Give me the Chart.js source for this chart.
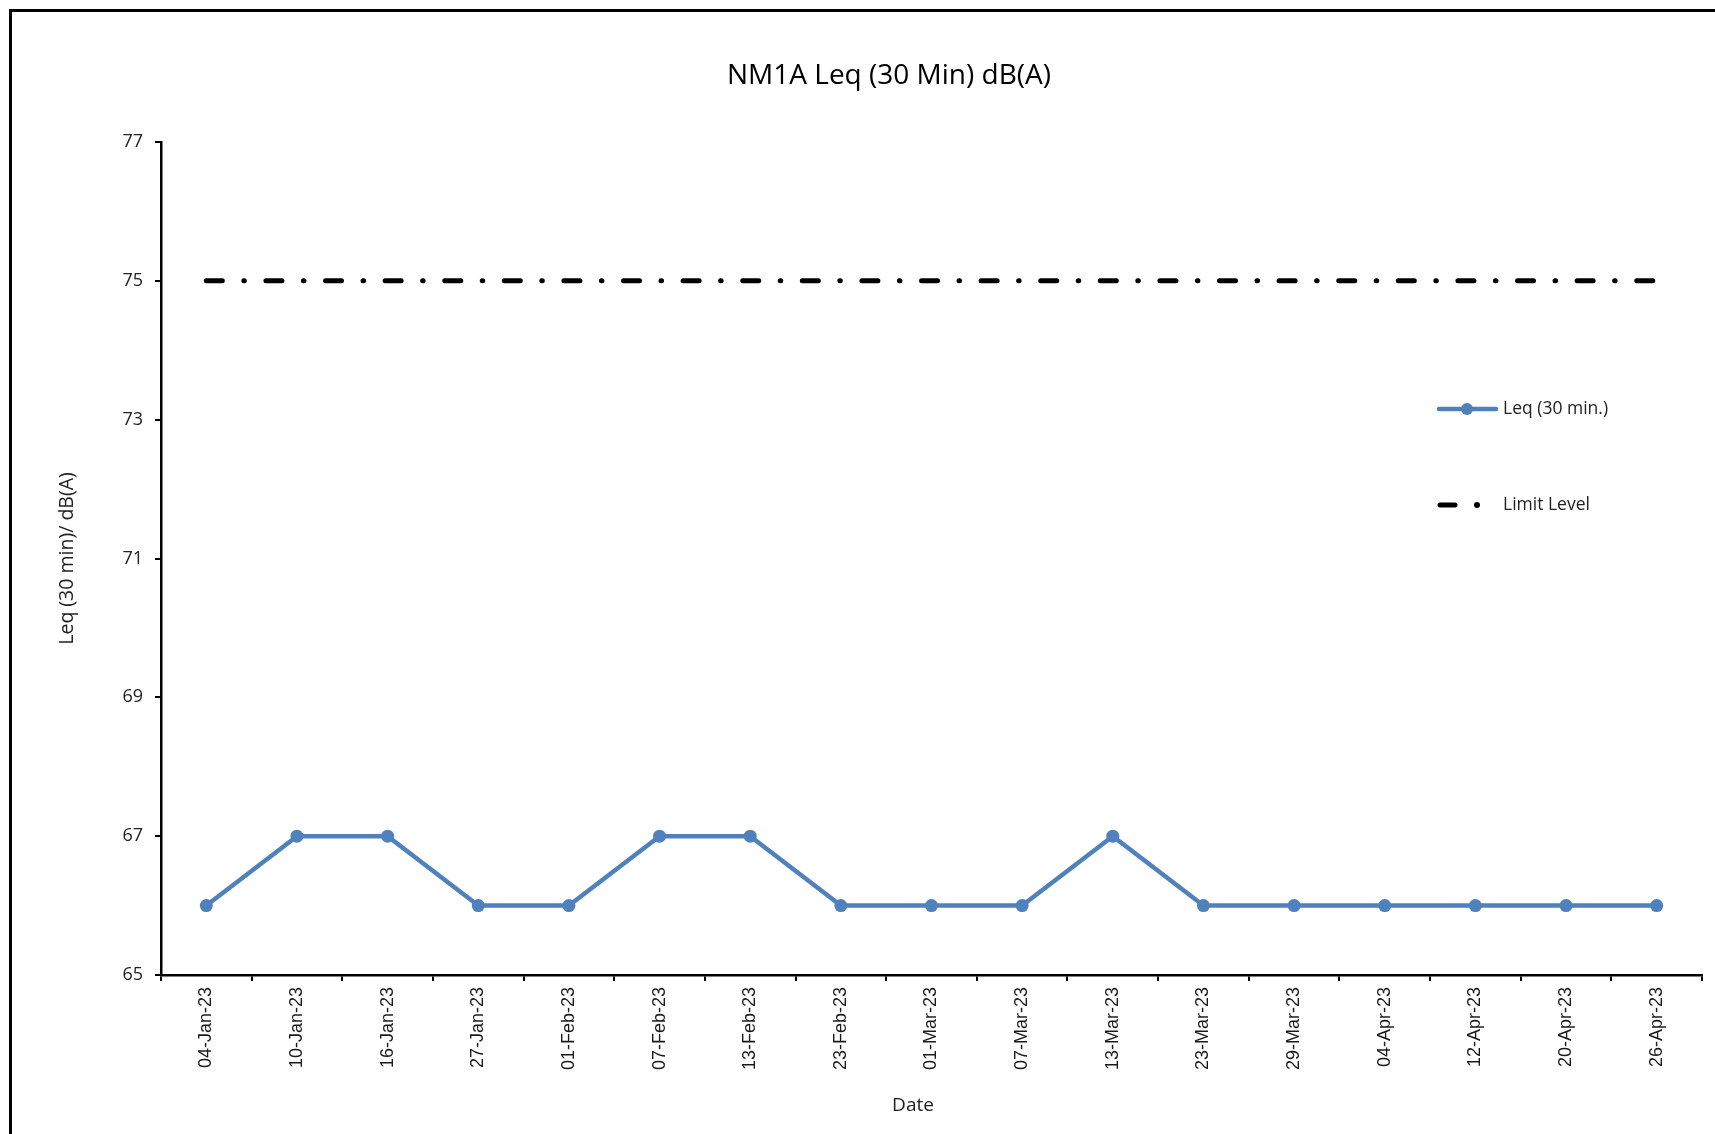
<!DOCTYPE html>
<html lang="en">
<head>
  <meta charset="UTF-8">
  <title>NM1A Leq (30 Min) dB(A)</title>
  <script src="https://cdn.jsdelivr.net/npm/chart.js"></script>
  <style>
    * {
      box-sizing: border-box;
    }

    html, body {
      margin: 0;
      padding: 0;
      background: #ffffff;
      overflow: hidden;
    }

    .frame {
      position: absolute;
      left: 9px;
      top: 9px;
      width: 2000px;
      height: 2000px;
      border: 3px solid #000;
      pointer-events: none;
    }

    #wrap {
      position: absolute;
      left: 0;
      top: 0;
      width: 1715px;
      height: 1134px;
    }
  </style>
</head>
<body>

<div id="wrap">
  <canvas id="leqChart" width="1715" height="1134"></canvas>
</div>
<div class="frame"></div>

<script>
// data
const dates = [
  '04-Jan-23', '10-Jan-23', '16-Jan-23', '27-Jan-23', '01-Feb-23', '07-Feb-23',
  '13-Feb-23', '23-Feb-23', '01-Mar-23', '07-Mar-23', '13-Mar-23', '23-Mar-23',
  '29-Mar-23', '04-Apr-23', '12-Apr-23', '20-Apr-23', '26-Apr-23'
];
const leqValues = [66, 67, 67, 66, 66, 67, 67, 66, 66, 66, 67, 66, 66, 66, 66, 66, 66];
const limitValues = [75, 75, 75, 75, 75, 75, 75, 75, 75, 75, 75, 75, 75, 75, 75, 75, 75];
const yMin = 65;
const yMax = 77;
const yStep = 2;

const seriesNames = ['Leq (30 min.)', 'Limit Level'];
const chartTitle = 'NM1A Leq (30 Min) dB(A)';
const xTitle = 'Date';
const yTitle = 'Leq (30 min)/ dB(A)';

const blue = '#4F81BD';
const limitDash = [16, 21.5, 0.5, 21.6];

// title, x title and legend are drawn by hand (legend sits inside the plot)
const excelText = {
  id: 'excelText',
  afterDraw(chart) {
    const c = chart.ctx;
    c.save();
    c.fillStyle = '#000';
    c.textBaseline = 'middle';

    c.font = '28px "Open Sans"';
    c.textAlign = 'center';
    c.fillText(chartTitle, 889, 76);

    c.font = '19px "Open Sans"';
    c.fillStyle = '#222';
    c.fillText(xTitle, 913, 1106);

    // legend
    c.textAlign = 'left';
    c.font = '17.5px "Open Sans"';

    c.strokeStyle = blue;
    c.lineWidth = 4.5;
    c.lineCap = 'round';
    c.beginPath();
    c.moveTo(1439, 409);
    c.lineTo(1496, 409);
    c.stroke();
    c.fillStyle = blue;
    c.beginPath();
    c.arc(1467, 409, 6, 0, Math.PI * 2);
    c.fill();

    c.strokeStyle = '#000';
    c.lineWidth = 5;
    c.beginPath();
    c.moveTo(1440, 505);
    c.lineTo(1455, 505);
    c.stroke();
    c.fillStyle = '#000';
    c.beginPath();
    c.arc(1477, 505, 3, 0, Math.PI * 2);
    c.fill();

    c.fillStyle = '#222';
    c.fillText(seriesNames[0], 1503, 409);
    c.fillText(seriesNames[1], 1503, 505);
    c.restore();
  }
};

const ctx = document.getElementById('leqChart').getContext('2d');

new Chart(ctx, {
  type: 'line',
  data: {
    labels: dates,
    datasets: [
      {
        label: seriesNames[1],
        data: limitValues,
        borderColor: '#000',
        borderWidth: 5,
        borderDash: limitDash,
        borderCapStyle: 'round',
        pointRadius: 0,
        pointHoverRadius: 0,
        fill: false
      },
      {
        label: seriesNames[0],
        data: leqValues,
        borderColor: blue,
        backgroundColor: blue,
        borderWidth: 4.5,
        borderJoinStyle: 'round',
        pointRadius: 6.5,
        pointBorderWidth: 0,
        pointBackgroundColor: blue,
        tension: 0,
        fill: false
      }
    ]
  },
  options: {
    responsive: false,
    animation: false,
    devicePixelRatio: 1,
    layout: {
      padding: { top: 142, left: 0, right: 13, bottom: 0 }
    },
    plugins: {
      legend: { display: false },
      title: { display: false },
      tooltip: { enabled: false }
    },
    scales: {
      x: {
        type: 'category',
        offset: true,
        afterFit: (scale) => { scale.height = 159; },
        grid: {
          offset: true,
          drawOnChartArea: false,
          drawTicks: true,
          tickLength: 6,
          color: '#000',
          lineWidth: 2
        },
        border: { color: '#000', width: 2.5 },
        ticks: {
          minRotation: 90,
          maxRotation: 90,
          autoSkip: false,
          padding: 6,
          color: '#1a1a1a',
          font: { family: '"Liberation Sans", Arial, sans-serif', size: 18 }
        }
      },
      y: {
        min: yMin,
        max: yMax,
        afterFit: (scale) => { scale.width = 161; },
        grid: {
          drawOnChartArea: false,
          drawTicks: true,
          tickLength: 6,
          color: '#000',
          lineWidth: 2
        },
        border: { color: '#000', width: 2.5 },
        ticks: {
          stepSize: yStep,
          padding: 12,
          color: '#222',
          font: { family: '"Open Sans"', size: 18 }
        },
        title: {
          display: true,
          text: yTitle,
          color: '#222',
          padding: { top: 56, bottom: 0 },
          font: { family: '"Open Sans"', size: 19.5 }
        }
      }
    }
  },
  plugins: [excelText]
});
</script>

</body>
</html>
